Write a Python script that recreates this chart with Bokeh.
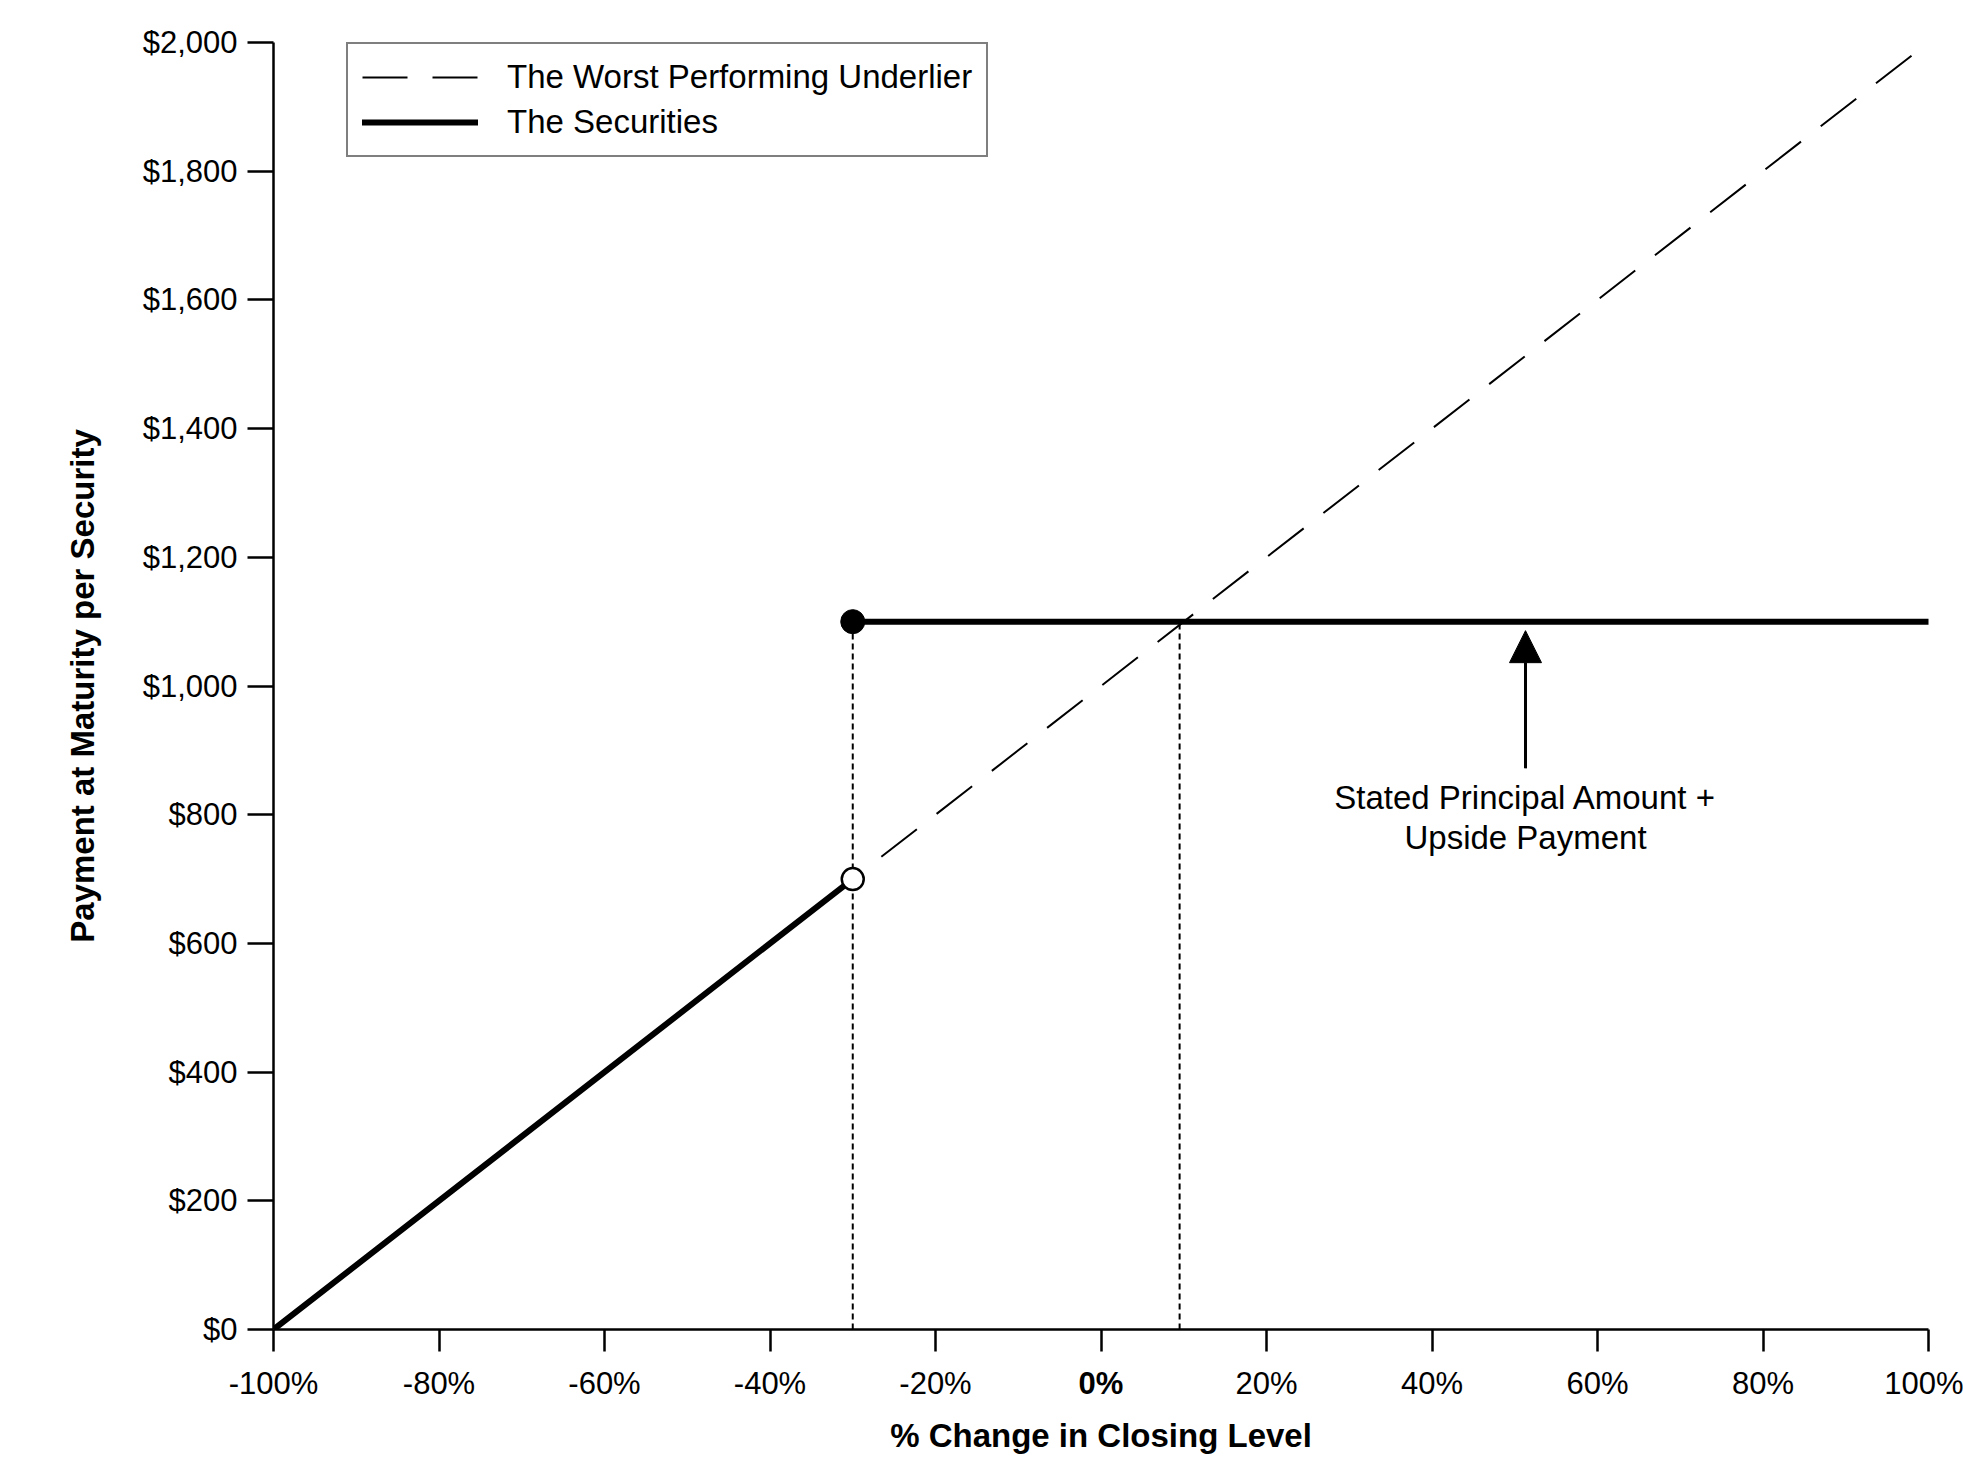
from bokeh.plotting import figure
from bokeh.models import (Range1d, FixedTicker, Legend, LegendItem, Arrow,
                          NormalHead, LinearAxis)
from bokeh.core.properties import value
from bokeh.embed import file_html
from bokeh.resources import INLINE

FONT = "Liberation Sans"

# ---- data -------------------------------------------------------------
x_ticks = [-100, -80, -60, -40, -20, 0, 20, 40, 60, 80, 100]
x_tick_labels = ["-100%", "-80%", "-60%", "-40%", "-20%", "0%",
                 "20%", "40%", "60%", "80%", "100%"]
y_ticks = [0, 200, 400, 600, 800, 1000, 1200, 1400, 1600, 1800, 2000]
y_tick_labels = ["$0", "$200", "$400", "$600", "$800", "$1,000",
                 "$1,200", "$1,400", "$1,600", "$1,800", "$2,000"]

underlier_x = [-100, 100]
underlier_y = [0, 2000]

sec_low_x = [-100, -30]
sec_low_y = [0, 700]
sec_high_x = [-30, 100]
sec_high_y = [1100, 1100]

open_pt_x = [-30]
open_pt_y = [700]
filled_pt_x = [-30]
filled_pt_y = [1100]

dotted_x = [-30, 9.5]
dotted_y0 = [0, 0]
dotted_y1 = [1100, 1100]

arrow_x = 51.3
arrow_y_start = 872
arrow_y_end = 1086
note_lines = ["Stated Principal Amount +", "Upside Payment"]
note_y = [826, 764]

# ---- style constants ------------------------------------------------------
TICK_FONT = "31px"
TICK_LABEL_H = 38        # approx. rendered height of a 31px tick label

# ---- figure -----------------------------------------------------------
p = figure(width=1963, height=1482,
           x_range=Range1d(-100, 100), y_range=Range1d(0, 2000),
           output_backend="svg", toolbar_location=None,
           min_border_left=273, min_border_right=35,
           min_border_top=42, min_border_bottom=153)
p.outline_line_color = None
p.xgrid.visible = False
p.ygrid.visible = False
p.background_fill_color = "white"
p.border_fill_color = "white"

# main axes
p.xaxis.ticker = FixedTicker(ticks=x_ticks)
ov = {t: l for t, l in zip(x_ticks, x_tick_labels)}
ov[0] = ""          # "0%" is drawn bold by the second axis below
p.xaxis.major_label_overrides = ov
p.yaxis.ticker = FixedTicker(ticks=y_ticks)
p.yaxis.major_label_overrides = {t: l for t, l in zip(y_ticks, y_tick_labels)}

for ax in (p.xaxis[0], p.yaxis[0]):
    ax.axis_line_color = "black"
    ax.axis_line_width = 2.5
    ax.major_tick_line_color = "black"
    ax.major_tick_line_width = 2.5
    ax.major_tick_in = 0
    ax.minor_tick_in = 0
    ax.minor_tick_out = 0
    ax.major_label_text_font = FONT
    ax.major_label_text_font_size = TICK_FONT
    ax.major_label_text_color = "black"
    ax.axis_label_text_font = FONT
    ax.axis_label_text_font_size = "33px"
    ax.axis_label_text_font_style = "bold"
    ax.axis_label_text_color = "black"

p.xaxis.major_tick_out = 22
p.xaxis.major_label_standoff = 14

p.yaxis.major_tick_out = 26
p.yaxis.major_label_standoff = 10
p.yaxis.axis_label = "Payment at Maturity per Security"
p.yaxis.axis_label_standoff = 39

# second x axis (stacked under the first): carries the bold "0%" label,
# pulled back up onto the tick-label row, and the axis title
zero_axis = LinearAxis(ticker=FixedTicker(ticks=[0]),
                       major_label_overrides={0: x_tick_labels[x_ticks.index(0)]})
zero_axis.axis_line_color = None
zero_axis.major_tick_line_color = None
zero_axis.minor_tick_line_color = None
zero_axis.major_tick_out = 0
zero_axis.major_tick_in = 0
zero_axis.minor_tick_in = 0
zero_axis.minor_tick_out = 0
zero_axis.major_label_standoff = -TICK_LABEL_H
zero_axis.major_label_text_font = FONT
zero_axis.major_label_text_font_size = TICK_FONT
zero_axis.major_label_text_font_style = "bold"
zero_axis.major_label_text_color = "black"
zero_axis.axis_label = "% Change in Closing Level"
zero_axis.axis_label_standoff = 13
zero_axis.axis_label_text_font = FONT
zero_axis.axis_label_text_font_size = "33px"
zero_axis.axis_label_text_font_style = "bold"
zero_axis.axis_label_text_color = "black"
p.add_layout(zero_axis, "below")

# glyphs
r_under = p.line(underlier_x, underlier_y, line_color="black", line_width=2,
                 line_dash="45 25")
p.segment(x0=dotted_x, y0=dotted_y0, x1=dotted_x, y1=dotted_y1,
          line_color="black", line_width=2, line_dash="6 4")
r_sec = p.line(sec_low_x, sec_low_y, line_color="black", line_width=6,
               line_cap="round")
p.line(sec_high_x, sec_high_y, line_color="black", line_width=6,
       line_cap="round")
p.scatter(filled_pt_x, filled_pt_y, size=24, fill_color="black",
          line_color="black", line_width=1)
p.scatter(open_pt_x, open_pt_y, size=22, fill_color="white",
          line_color="black", line_width=2.5)

# arrow + note
p.add_layout(Arrow(end=NormalHead(size=32, fill_color="black",
                                  line_color="black", line_width=1),
                   x_start=arrow_x, y_start=arrow_y_start,
                   x_end=arrow_x, y_end=arrow_y_end,
                   line_color="black", line_width=3))
p.text(x=[arrow_x] * len(note_lines), y=note_y, text=note_lines,
       text_align="center", text_baseline="middle",
       text_font=value(FONT), text_font_size="33px", text_color="black")

# legend
legend = Legend(items=[
    LegendItem(label="The Worst Performing Underlier", renderers=[r_under]),
    LegendItem(label="The Securities", renderers=[r_sec]),
], location=(73, 1172))
legend.border_line_color = "black"
legend.border_line_width = 2
legend.background_fill_color = "white"
legend.background_fill_alpha = 1
legend.padding = 14
legend.spacing = 7
legend.margin = 0
legend.glyph_width = 116
legend.glyph_height = 36
legend.label_height = 36
legend.label_standoff = 29
legend.label_text_font = FONT
legend.label_text_font_size = "33px"
legend.label_text_color = "black"
p.add_layout(legend)

open("out.html", "w").write(file_html(p, INLINE))
